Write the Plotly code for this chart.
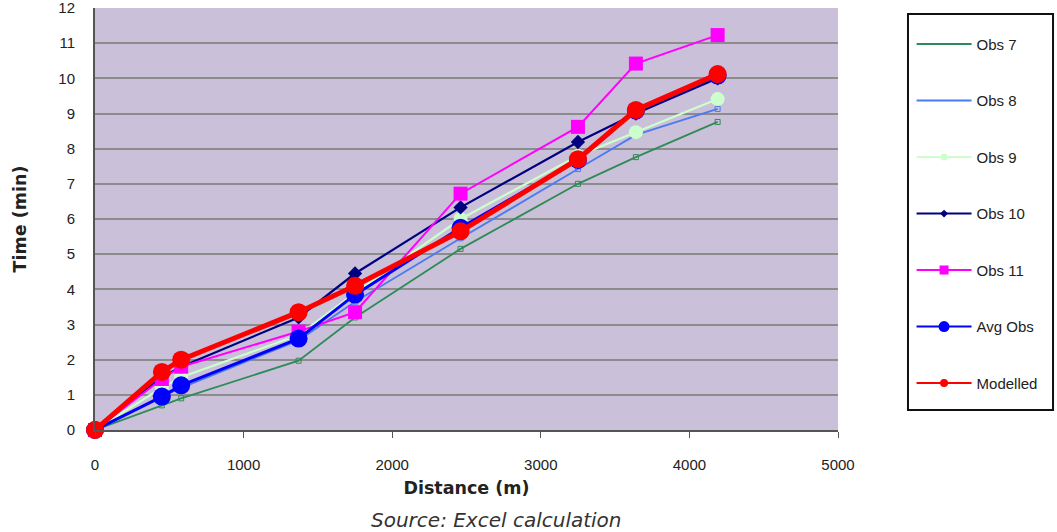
import plotly.graph_objects as go

distance = [0, 450, 580, 1370, 1750, 2460, 3250, 3640, 4190]
obs7 = [0, 0.70, 0.90, 1.97, 3.20, 5.15, 7.00, 7.76, 8.76]
obs8 = [0, 0.95, 1.20, 2.55, 3.65, 5.45, 7.42, 8.39, 9.13]
obs9 = [0, 1.20, 1.50, 2.70, 3.90, 6.00, 7.80, 8.47, 9.41]
obs10 = [0, 1.50, 1.80, 3.20, 4.45, 6.33, 8.19, 9.00, 10.00]
obs11 = [0, 1.45, 1.80, 2.80, 3.35, 6.72, 8.62, 10.42, 11.23]
avg_obs = [0, 0.95, 1.27, 2.60, 3.85, 5.75, 7.68, 9.08, 10.08]
modelled = [0, 1.65, 2.00, 3.35, 4.10, 5.65, 7.70, 9.10, 10.12]

x_ticks = [0, 1000, 2000, 3000, 4000, 5000]
y_ticks = list(range(0, 13))

tick_font = "Liberation Sans Narrow, Liberation Sans, sans-serif"
title_font = "DejaVu Sans, Liberation Sans, sans-serif"

# name, values, color, line width, symbol, marker size, marker outline, legend marker size
series = [
    ("Obs 7", obs7, "#2E8B57", 1.8, "square-open", 5, 1, 0),
    ("Obs 8", obs8, "#4A7BF0", 1.8, "square-open", 5, 1, 0),
    ("Obs 9", obs9, "#CCFFCC", 2.2, "circle", 14, 0, 7),
    ("Obs 10", obs10, "#000080", 2.2, "diamond", 11, 0, 6),
    ("Obs 11", obs11, "#FF00FF", 2.0, "square", 14, 0, 9),
    ("Avg Obs", avg_obs, "#0000FF", 3.0, "circle", 18, 0, 11),
    ("Modelled", modelled, "#FF0000", 5.0, "circle", 18, 0, 8),
]

fig = go.Figure()
for name, vals, color, lw, sym, ms, mlw, lms in series:
    fig.add_trace(go.Scatter(
        x=distance, y=vals, name=name, mode="lines+markers",
        line=dict(color=color, width=lw),
        marker=dict(symbol=sym, size=ms, color=color,
                    line=dict(color=color, width=mlw)),
        showlegend=False, cliponaxis=False,
    ))
# legend-only entries (no data drawn) so legend glyphs stay thin like the original
for name, vals, color, lw, sym, ms, mlw, lms in series:
    fig.add_trace(go.Scatter(
        x=[None], y=[None], name=name,
        mode="lines+markers" if lms else "lines",
        line=dict(color=color, width=2),
        marker=dict(symbol=sym, size=max(lms, 1), color=color),
        legendgroup=name, showlegend=True, hoverinfo="skip",
    ))

fig.update_layout(
    width=1057, height=532,
    margin=dict(l=95, r=219, t=8, b=102, autoexpand=False),
    paper_bgcolor="white",
    plot_bgcolor="#CBC0D9",
    font=dict(family=tick_font, size=15, color="#222222"),
    showlegend=True,
    legend=dict(
        x=1.099, y=0.953, xanchor="left", yanchor="top",
        borderwidth=0, bgcolor="rgba(0,0,0,0)",
        font=dict(family="Liberation Sans, Arial, sans-serif", size=15, color="#222222"),
        tracegroupgap=34, itemsizing="trace", itemwidth=55,
        entrywidth=125, entrywidthmode="pixels",
    ),
    shapes=[dict(
        type="rect", xref="paper", yref="paper",
        x0=1.0942, x1=1.2894, y0=0.0474, y1=0.9858,
        line=dict(color="#111111", width=2), fillcolor="rgba(0,0,0,0)",
        layer="above",
    )],
    xaxis=dict(
        range=[0, 5000], tickvals=x_ticks, showgrid=False, zeroline=False,
        showline=True, linecolor="#555555", linewidth=2, automargin=False,
        ticks="outside", ticklen=6, tickcolor="#555555",
        ticklabelstandoff=14,
        title=dict(text="<b>Distance (m)</b>", standoff=10,
                   font=dict(family=title_font, size=17.5)),
    ),
    yaxis=dict(
        range=[0, 12], tickvals=y_ticks, showgrid=True, gridcolor="#8C8C8C",
        gridwidth=1.5, zeroline=False, automargin=False,
        showline=True, linecolor="#555555", linewidth=2,
        ticks="", ticklabelstandoff=15, ticklabeloverflow="allow",
        title=dict(text="<b>Time (min)</b>", standoff=27,
                   font=dict(family=title_font, size=17.5)),
    ),
    annotations=[dict(
        text="<i>Source: Excel calculation</i>", xref="paper", yref="paper",
        x=0.541, y=-0.213, xanchor="center", yanchor="middle", showarrow=False,
        font=dict(family=title_font, size=20, color="#333333"),
    )],
)

fig.write_html("out.html", config={"displayModeBar": False},
               post_script="document.body.style.margin='0';")
